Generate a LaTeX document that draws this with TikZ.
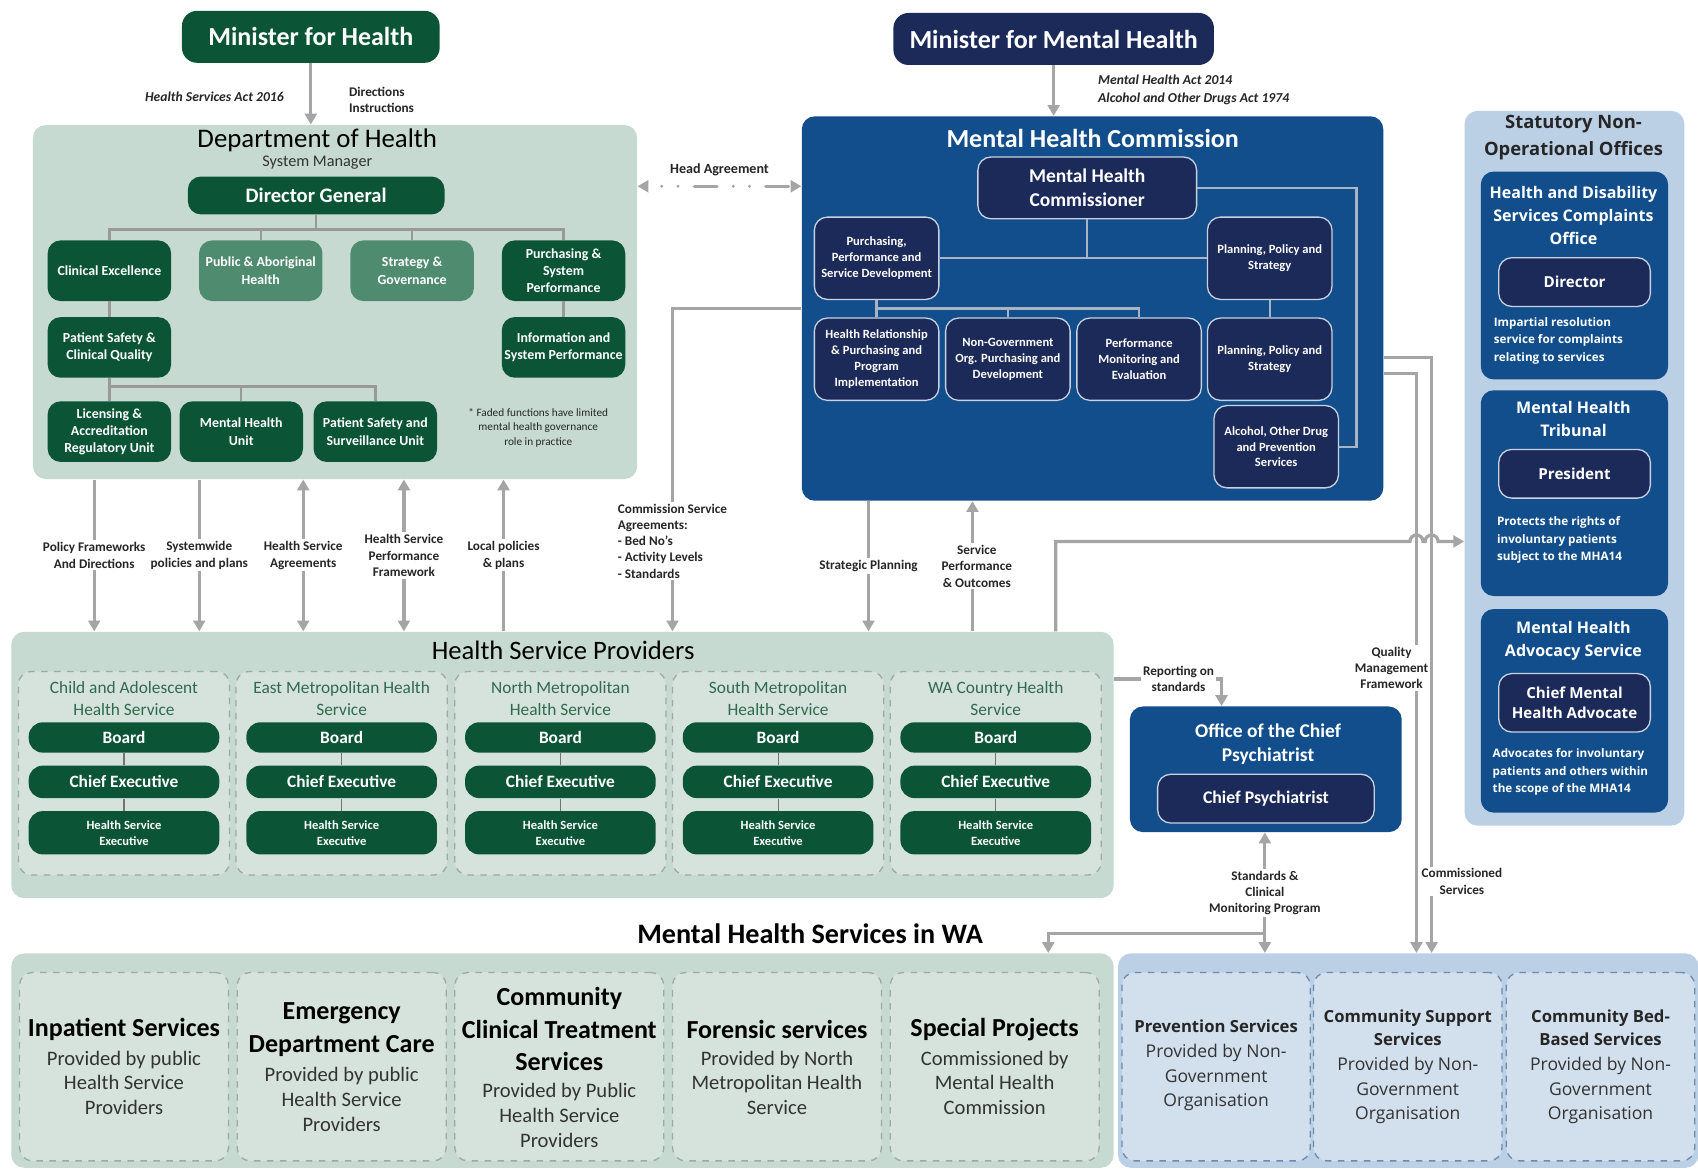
\documentclass[tikz,border=0pt]{standalone}
\usepackage{fontspec}
\setmainfont{Carlito}
\newfontfamily\opensans{Open Sans}
\usetikzlibrary{positioning,arrows.meta}

\definecolor{hgreen}{HTML}{0B5536}
\definecolor{hfaded}{HTML}{4F8B6F}
\definecolor{hpanel}{HTML}{C7DAD1}
\definecolor{hcol}{HTML}{D6E3DD}
\definecolor{hcoledge}{HTML}{9DAAA3}
\definecolor{htitle}{HTML}{2F6A4E}
\definecolor{navy}{HTML}{1C2A5A}
\definecolor{navyedge}{HTML}{C9D2E0}
\definecolor{mblue}{HTML}{114E8B}
\definecolor{lblue}{HTML}{BBD0E5}
\definecolor{bcol}{HTML}{D2DFED}
\definecolor{bcoledge}{HTML}{6E89AE}
\definecolor{linkgray}{HTML}{A5A5A5}
\definecolor{mhcline}{HTML}{A8B3C3}

\begin{document}
\begin{tikzpicture}[
            x=0.5pt, y=-0.5pt, >={Triangle[length=5pt,width=5.5pt]},
            wh/.style 2 args={minimum width=#1*0.5pt, minimum height=#2*0.5pt},
            panel/.style={rounded corners=6pt, inner sep=0pt, anchor=north west},
            ministerbox/.style={rounded corners=7pt, text=white, inner sep=0pt, font=\bfseries\fontsize{12}{14}\selectfont},
            deptbox/.style={rounded corners=6pt, fill=hgreen, text=white, align=center, inner sep=1pt, wh={114}{56}, font=\bfseries\fontsize{6.4}{8}\selectfont},
            navybox/.style={rounded corners=6pt, fill=navy, draw=navyedge, line width=0.6pt, text=white, align=center, inner sep=1pt},
            mhcbox/.style={navybox, wh={115}{76}, font=\bfseries\fontsize{5.8}{7.3}\selectfont},
            officebox/.style={navybox, wh={140}{45}, font=\opensans\bfseries\fontsize{7}{9.5}\selectfont},
            stattitle/.style={text=white, align=center, font=\opensans\bfseries\fontsize{7.4}{10.5}\selectfont},
            offdesc/.style={anchor=north west, align=left, inner sep=0pt, text=white, font=\opensans\bfseries\fontsize{5.4}{8}\selectfont},
            hspcol/.style={rounded corners=6pt, fill=hcol, draw=hcoledge, dashed, line width=0.6pt, wh={195}{188}},
            hsptitle/.style={text=htitle, align=center, font=\fontsize{8}{10}\selectfont},
            pill/.style={rounded corners=6.5pt, fill=hgreen, text=white, align=center, inner sep=0pt, wh={176}{28}, font=\bfseries\fontsize{8}{10}\selectfont},
            pilllink/.style={draw=black!55, line width=0.5pt},
            svcbox/.style={rounded corners=6pt, fill=hcol, draw=hcoledge, dashed, line width=0.6pt, wh={193}{174}},
            svchead/.style={align=center, font=\bfseries\fontsize{12}{15}\selectfont},
            svcsub/.style={align=center, text=black!80, font=\fontsize{9.5}{11.5}\selectfont},
            ngobox/.style={rounded corners=6pt, fill=bcol, draw=bcoledge, dashed, line width=0.6pt, wh={174}{174}},
            ngohead/.style={align=center, text=black!85, font=\opensans\bfseries\fontsize{7.7}{11}\selectfont},
            ngosub/.style={align=center, text=black!80, font=\opensans\fontsize{8.1}{11.5}\selectfont},
            lbl/.style={fill=white, inner sep=1pt, align=center, text=black!85, font=\bfseries\fontsize{6.1}{7.5}\selectfont},
            actlbl/.style={text=black!85, font=\bfseries\itshape\fontsize{6.3}{8}\selectfont},
            orgline/.style={draw=black!40, line width=1.1pt},
            mhcl/.style={draw=mhcline, line width=1.1pt},
            garrow/.style={draw=linkgray, line width=1.5pt, ->},
            ]
            \fill[white] (0,0) rectangle (1568,1080);
            \useasboundingbox (0,0) rectangle (1568,1080);

            % Ministers
            \node[ministerbox, fill=hgreen, wh={238}{48}] (minH) at (287,34) {Minister for Health};
            \node[ministerbox, fill=navy, wh={296}{48}] (minMH) at (973,36) {Minister for Mental Health};

            % Department of Health
            \node[panel, fill=hpanel, wh={558}{327}] (doh) at (30,115) {};
            \node[font=\fontsize{12.4}{14}\selectfont] (dohT) at (293,130) {Department of Health};
            \node[font=\fontsize{7.5}{9}\selectfont, text=black!80] (dohS) at (293,150) {System Manager};
            \node[deptbox, wh={237}{35}, font=\bfseries\fontsize{9.5}{11}\selectfont] (dg) at (292,180.5) {Director General};
            \node[deptbox] (clinex) at (101,250) {Clinical Excellence};
            \node[deptbox, fill=hfaded] (pubab) [right=12.5pt of clinex] {Public \& Aboriginal\\Health};
            \node[deptbox, fill=hfaded] (strat) [right=12.5pt of pubab] {Strategy \&\\Governance};
            \node[deptbox] (purch) [right=12.5pt of strat] {Purchasing \&\\System\\Performance};
            \node[deptbox] (patsafe) [below=7pt of clinex] {Patient Safety \&\\Clinical Quality};
            \node[deptbox] (infosys) [below=7pt of purch] {Information and\\System Performance};
            \node[deptbox] (licens) [below=10.5pt of patsafe] {Licensing \&\\Accreditation\\Regulatory Unit};
            \node[deptbox] (mhu) [right=3.5pt of licens] {Mental Health\\Unit};
            \node[deptbox] (pssu) [right=4.5pt of mhu] {Patient Safety and\\Surveillance Unit};
            \node[align=center, text=black!85, font=\fontsize{5.2}{6.7}\selectfont] (fadenote) at (497,395) {* Faded functions have limited\\mental health governance\\role in practice};

            % Mental Health Commission
            \node[panel, fill=mblue, wh={537}{355}] (mhc) at (740,107) {};
            \node[text=white, font=\bfseries\fontsize{12}{14}\selectfont] (mhcT) at (1009,128) {Mental Health Commission};
            \node[navybox, wh={202}{57}, font=\bfseries\fontsize{9}{11}\selectfont] (mhcom) at (1004,173.5) {Mental Health\\Commissioner};
            \node[mhcbox] (ppsd) at (809.5,238.5) {Purchasing,\\Performance and\\Service Development};
            \node[mhcbox] (pps1) at (1172.5,238.5) {Planning, Policy and\\Strategy};
            \node[mhcbox] (hrpp) [below=8pt of ppsd] {Health Relationship\\\& Purchasing and\\Program\\Implementation};
            \node[mhcbox] (ngo) [right=2.5pt of hrpp] {Non-Government\\Org. Purchasing and\\Development};
            \node[mhcbox] (pme) [right=2.5pt of ngo] {Performance\\Monitoring and\\Evaluation};
            \node[mhcbox] (pps2) [below=8pt of pps1] {Planning, Policy and\\Strategy};
            \node[mhcbox] (aod) at (1178.5,412.5) {Alcohol, Other Drug\\and Prevention\\Services};

            % Statutory Non-Operational Offices
            \node[panel, fill=lblue, wh={203}{660}] (stat) at (1352,102) {};
            \node[stattitle, text=black!85, font=\opensans\bfseries\fontsize{8.5}{12.5}\selectfont] (statT) at (1453,127) {Statutory Non-\\Operational Offices};
            \node[panel, fill=mblue, wh={173}{192}] (hadsco) at (1367,158) {};
            \node[stattitle] (hadscoT) at (1453,199) {Health and Disability\\Services Complaints\\Office};
            \node[officebox] (director) at (1454,260.5) {Director};
            \node[offdesc] (hadscoD) at (1379,293) {Impartial resolution\\service for complaints\\relating to services};
            \node[panel, fill=mblue, wh={173}{190}] (mht) at (1367,360) {};
            \node[stattitle] (mhtT) at (1453,387) {Mental Health\\Tribunal};
            \node[officebox] (president) at (1454,437.5) {President};
            \node[offdesc] (mhtD) at (1382,477) {Protects the rights of\\involuntary patients\\subject to the MHA14};
            \node[panel, fill=mblue, wh={173}{188}] (mhas) at (1367,562) {};
            \node[stattitle] (mhasT) at (1453,592) {Mental Health\\Advocacy Service};
            \node[officebox, wh={140}{54}] (cmha) at (1454,649) {Chief Mental\\Health Advocate};
            \node[offdesc] (mhasD) at (1378,691) {Advocates for involuntary\\patients and others within\\the scope of the MHA14};

            % Health Service Providers
            \node[panel, fill=hpanel, wh={1018}{246}] (hsp) at (10,583) {};
            \node[font=\fontsize{12.3}{14}\selectfont] (hspT) at (520,601) {Health Service Providers};
            \foreach \x/\hs/\ttl in {114.5/cahs/{Child and Adolescent\\Health Service}, 315.5/emhs/{East Metropolitan Health\\Service}, 517.5/nmhs/{North Metropolitan\\Health Service}, 718.5/smhs/{South Metropolitan\\Health Service}, 919.5/wachs/{WA Country Health\\Service}}
            {
                \node[hspcol] (\hs) at (\x,714) {};
                \node[hsptitle] (\hs-t) at (\x,645) {\ttl};
                \node[pill] (\hs-b) at (\x,681) {Board};
                \node[pill, wh={176}{30}] (\hs-c) at (\x,722) {Chief Executive};
                \node[pill, wh={176}{40}, font=\bfseries\fontsize{5.8}{7.5}\selectfont] (\hs-e) at (\x,769) {Health Service\\Executive};
                \draw[pilllink] (\hs-b) -- (\hs-c) -- (\hs-e);
            }

            % Office of the Chief Psychiatrist
            \node[panel, fill=mblue, wh={251}{116}] (ocp) at (1043,652) {};
            \node[text=white, align=center, font=\bfseries\fontsize{9}{11}\selectfont] (ocpT) at (1171,687) {Office of the Chief\\Psychiatrist};
            \node[navybox, wh={200}{45}, font=\bfseries\fontsize{8.2}{10}\selectfont] (chpsy) at (1169,737.5) {Chief Psychiatrist};

            % Mental Health Services in WA
            \node[font=\bfseries\fontsize{13}{15}\selectfont] (mhswaT) at (748,862) {Mental Health Services in WA};
            \node[panel, fill=hpanel, wh={1018}{198}] (greenp) at (10,880) {};
            \node[panel, fill=lblue, wh={536}{198}] (bluep) at (1032,880) {};
            \foreach \x/\sv/\hy/\sy/\hd/\sb in {114.5/inpat/951/1000/{Inpatient Services}/{Provided by public\\Health Service\\Providers},
                315.5/emerg/951/1015/{Emergency\\Department Care}/{Provided by public\\Health Service\\Providers},
                516.5/ccts/950.5/1030/{Community\\Clinical Treatment\\Services}/{Provided by Public\\Health Service\\Providers},
                717.5/foren/951/1000/{Forensic services}/{Provided by North\\Metropolitan Health\\Service},
                918.5/specp/951/1000/{Special Projects}/{Commissioned by\\Mental Health\\Commission}}
            {
                \node[svcbox] (\sv) at (\x,985) {};
                \node[svchead] (\sv-h) at (\x,\hy) {\hd};
                \node[svcsub] (\sv-s) at (\x,\sy) {\sb};
            }
            \foreach \x/\sv/\hy/\sy/\hd in {1123/prev/948/995/{Prevention Services}, 1300/commsup/949/1007/{Community Support\\Services}, 1478/commbed/949/1007/{Community Bed-\\Based Services}}
            {
                \node[ngobox] (\sv) at (\x,985) {};
                \node[ngohead] (\sv-h) at (\x,\hy) {\hd};
                \node[ngosub] (\sv-s) at (\x,\sy) {Provided by Non-\\Government\\Organisation};
            }

            % Lines inside the Department
            \coordinate (dgbus) at (292,212);
            \coordinate (psbus) at (101,357);
            \draw[orgline] (dg.south) -- (dgbus);
            \foreach \n in {clinex,pubab,strat,purch}
                \draw[orgline] (dgbus) -| (\n.north);
            \draw[orgline] (clinex) -- (patsafe);
            \draw[orgline] (purch) -- (infosys);
            \draw[orgline] (patsafe) -- (psbus);
            \foreach \n in {licens,mhu,pssu}
                \draw[orgline] (psbus) -| (\n.north);

            % Lines inside the Commission
            \coordinate (ppbus) at (809.5,285);
            \draw[mhcl] (mhcom) -- (mhcom |- ppsd);
            \draw[mhcl] (ppsd) -- (pps1);
            \draw[mhcl] (ppsd) -- (hrpp);
            \foreach \n in {ngo,pme}
                \draw[mhcl] (ppbus) -| (\n.north);
            \draw[mhcl] (pps1) -- (pps2);
            \draw[mhcl] (mhcom.east) -- ++(147,0) |- (aod.east);

            % Ministers to agencies
            \draw[garrow] (minH) -- (minH |- doh.north);
            \node[actlbl] (hsact) at (198,89) {Health Services Act 2016};
            \node[lbl, fill=none, align=left, anchor=west] (dirins) at (320,92) {Directions\\Instructions};
            \draw[garrow] (minMH) -- (minMH |- mhc.north);
            \node[actlbl, align=left, anchor=west] (mhacts) at (1007,83) {Mental Health Act 2014\\Alcohol and Other Drugs Act 1974};
            \draw[garrow, <->, line cap=round, dash pattern=on 10.5pt off 7.5pt on 0pt off 7.5pt on 0pt off 7.5pt, dash phase=11.5pt] (doh.east |- 0,172) -- node[lbl, fill=none, above=3pt, font=\bfseries\fontsize{6.5}{8}\selectfont] {Head Agreement} (mhc.west |- 0,172);

            % Department and Commission to providers
            \draw[garrow] (doh.south -| 87,0) -- node[lbl] {Policy Frameworks\\And Directions} (hsp.north -| 87,0);
            \draw[garrow] (doh.south -| 184,0) -- node[lbl] {Systemwide\\policies and plans} (hsp.north -| 184,0);
            \draw[garrow, <->] (doh.south -| 280,0) -- node[lbl] {Health Service\\Agreements} (hsp.north -| 280,0);
            \draw[garrow, <->] (doh.south -| 373,0) -- node[lbl] {Health Service\\Performance\\Framework} (hsp.north -| 373,0);
            \draw[garrow, <-] (doh.south -| 465,0) -- node[lbl] {Local policies\\\& plans} (hsp.north -| 465,0);
            \draw[garrow] (mhc.west |- 0,285) -| node[lbl, align=left, pos=0.86] {Commission Service\\Agreements:\\- Bed No's\\- Activity Levels\\- Standards} (hsp.north -| 621,0);
            \draw[garrow] (mhc.south -| 802,0) -- node[lbl] {Strategic Planning} (hsp.north -| 802,0);
            \draw[garrow, <-] (mhc.south -| 898,0) -- node[lbl, xshift=2pt] {Service\\Performance\\\& Outcomes} (hsp.north -| 898,0);

            % Commission to NGO services
            \draw[garrow] (mhc.east |- 0,345) -| node[lbl, pos=0.754, xshift=-11.5pt] {Quality\\Management\\Framework} (bluep.north -| 1308,0);
            \draw[garrow] (mhc.east |- 0,330) -| node[lbl, pos=0.94, xshift=14pt] {Commissioned\\Services} (bluep.north -| 1322,0);
            \draw[garrow] (hsp.north -| 975,0) |- (1302,500) arc[start angle=180, end angle=360, radius=6] -- (1316,500) arc[start angle=180, end angle=360, radius=6] -- (stat.west |- 0,500);

            % Chief Psychiatrist
            \draw[garrow] (hsp.east |- 0,627) -| node[lbl, pos=0.3] {Reporting on\\standards} (ocp.north -| 1128,0);
            \draw[garrow, <->] (ocp.south -| 1168,0) -- node[lbl] {Standards \&\\Clinical\\Monitoring Program} coordinate[pos=0.84] (stdbr) (bluep.north -| 1168,0);
            \draw[garrow] (stdbr) -| (greenp.north -| 968,0);
        \end{tikzpicture}
\end{document}
